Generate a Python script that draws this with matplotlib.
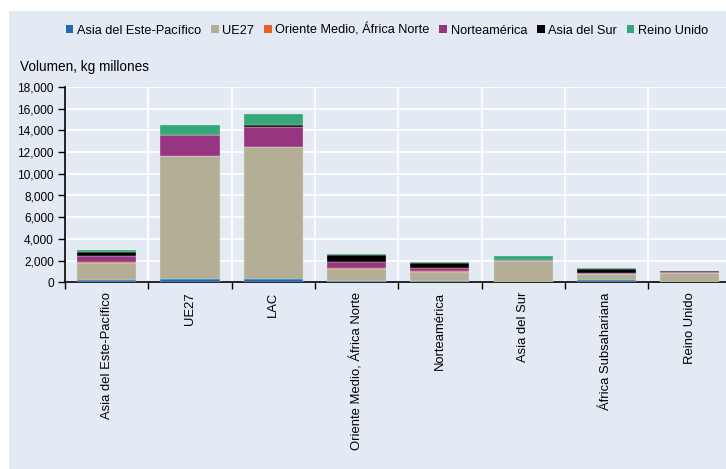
import matplotlib
matplotlib.use("Agg")
import matplotlib.pyplot as plt
import numpy as np
from matplotlib.patches import Rectangle

plt.rcParams['font.family'] = ['Liberation Sans', 'DejaVu Sans']

categories = ["Asia del Este-Pacífico", "UE27", "LAC", "Oriente Medio, África Norte",
              "Norteamérica", "Asia del Sur", "África Subsahariana", "Reino Unido"]

series_names = ["Asia del Este-Pacífico", "UE27", "Oriente Medio, África Norte",
                "Norteamérica", "Asia del Sur", "Reino Unido"]

asia_este = [210, 280, 300, 100, 100, 30, 200, 10]
ue27 = [1600, 11350, 12160, 1130, 850, 1950, 520, 820]
oriente_medio = [20, 20, 20, 80, 80, 20, 30, 10]
norteamerica = [640, 1900, 1870, 590, 270, 100, 80, 150]
asia_sur = [330, 40, 150, 600, 460, 0, 430, 40]
reino_unido = [190, 950, 990, 100, 90, 330, 90, 20]

colors = ["#1f69b0", "#b3ae95", "#e5602a", "#983580", "#000000", "#34a878"]
bg = "#e4eaf3"

fig = plt.figure(figsize=(7.26, 4.69), dpi=100, facecolor="white")
fig.patches.append(Rectangle((9 / 726, 0), 1, 1 - 11 / 469, transform=fig.transFigure,
                             facecolor=bg, edgecolor="none", zorder=-10))

ax = fig.add_axes([65 / 726, 186.7 / 469, 666.4 / 726, 195.3 / 469])
ax.set_facecolor(bg)

x = np.arange(len(categories))
bottom = np.zeros(len(categories))
data = [asia_este, ue27, oriente_medio, norteamerica, asia_sur, reino_unido]
for vals, col, name in zip(data, colors, series_names):
    v = np.array(vals, dtype=float)
    ax.bar(x, v, width=0.71, bottom=bottom, color=col, edgecolor="#dfe3e0",
           linewidth=0.25, label=name, zorder=3)
    bottom += v

ax.set_xlim(-0.5, len(categories) - 0.5)
ax.set_ylim(0, 18000)
ax.set_yticks(np.arange(0, 18001, 2000))
ax.set_yticklabels([f"{v:,}" for v in range(0, 18001, 2000)], fontsize=8.6)

ax.set_xticks(x)
ax.set_xticklabels(categories, rotation=90, fontsize=9.4, va="top")
ax.tick_params(axis="x", which="major", length=0, pad=7)
ax.set_xticks(np.arange(-0.5, len(categories), 1.0), minor=True)
ax.tick_params(axis="x", which="minor", length=5, width=1, direction="out", color="black")
ax.tick_params(axis="y", length=5, width=1, direction="out", pad=3)

ax.grid(axis="y", color="white", linewidth=1.3, zorder=0)
ax.grid(axis="x", which="minor", color="white", linewidth=1.3, zorder=0)
ax.set_axisbelow(True)

for s in ["top", "right"]:
    ax.spines[s].set_visible(False)
ax.spines["left"].set_linewidth(1.2)
ax.spines["bottom"].set_linewidth(1.2)

fig.text(20 / 726, 1 - 67 / 469, "Volumen, kg millones", fontsize=9.8, va="center", ha="left")

proxies = [Rectangle((0, 0), 1, 1, facecolor=c, edgecolor="none") for c in colors]
fig.legend(proxies, series_names, loc="center", bbox_to_anchor=(387 / 726, 1 - 30 / 469),
           ncol=6, frameon=False, fontsize=9.2, handlelength=0.6, handleheight=0.6,
           handletextpad=0.3, columnspacing=0.75, borderaxespad=0)

fig.savefig("out.png", dpi=100, facecolor=fig.get_facecolor())
